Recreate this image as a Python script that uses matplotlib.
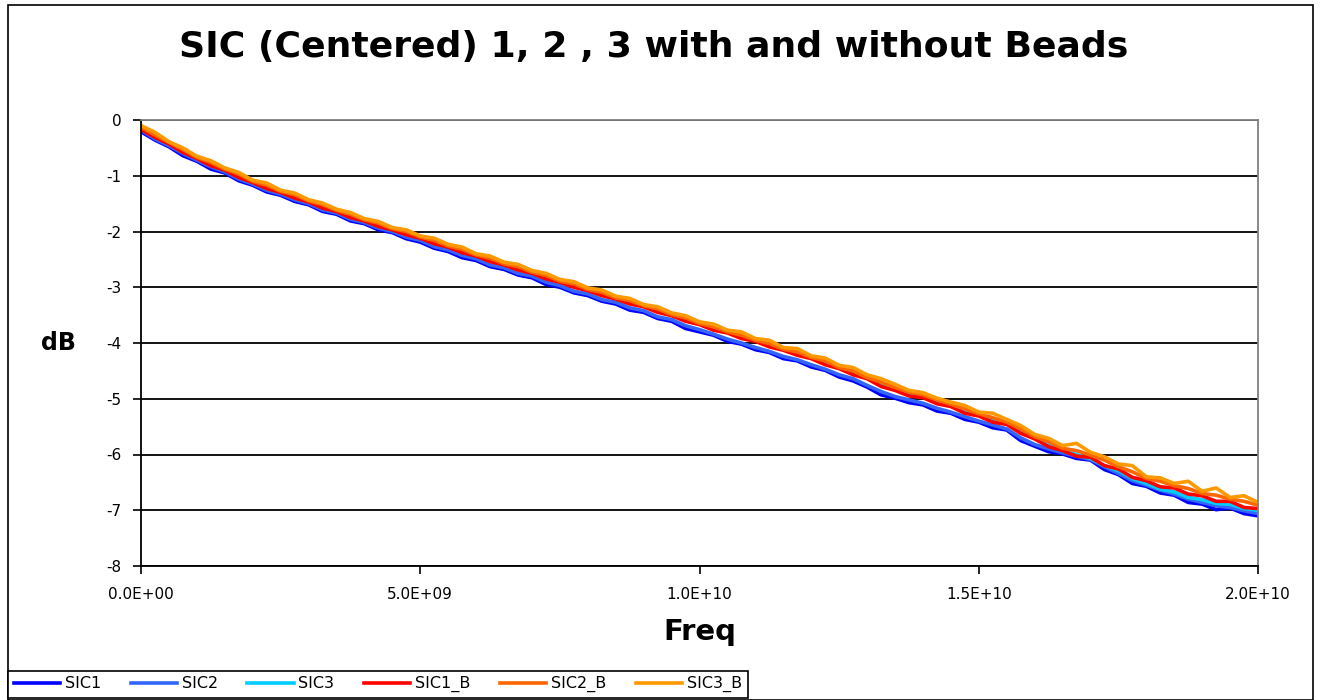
import matplotlib
matplotlib.use("Agg")
import matplotlib.pyplot as plt
from matplotlib.patches import Rectangle
import numpy as np

# ---------------- data ----------------
freq_ghz = [i * 0.25 for i in range(81)]  # 0 .. 20 GHz, sampled every 0.25 GHz

sic1 = [-0.21,-0.36,-0.48,-0.64,-0.74,-0.88,-0.95,-1.09,-1.17,-1.29,
        -1.35,-1.46,-1.52,-1.64,-1.69,-1.81,-1.86,-1.97,-2.02,-2.13,
        -2.19,-2.30,-2.36,-2.47,-2.52,-2.63,-2.68,-2.78,-2.83,-2.95,
        -3.00,-3.10,-3.15,-3.25,-3.30,-3.41,-3.45,-3.56,-3.61,-3.74,
        -3.80,-3.86,-3.97,-4.02,-4.12,-4.17,-4.28,-4.32,-4.43,-4.49,
        -4.61,-4.68,-4.79,-4.93,-4.99,-5.07,-5.11,-5.22,-5.26,-5.37,
        -5.42,-5.52,-5.56,-5.75,-5.85,-5.95,-5.99,-6.07,-6.10,-6.27,
        -6.36,-6.52,-6.57,-6.69,-6.73,-6.86,-6.89,-6.99,-6.96,-7.06,
        -7.10]

sic2 = [-0.18,-0.34,-0.46,-0.60,-0.72,-0.84,-0.93,-1.06,-1.15,-1.26,
        -1.33,-1.43,-1.50,-1.61,-1.67,-1.78,-1.84,-1.94,-2.00,-2.10,
        -2.16,-2.27,-2.33,-2.43,-2.49,-2.60,-2.65,-2.75,-2.80,-2.91,
        -2.97,-3.07,-3.12,-3.22,-3.27,-3.37,-3.42,-3.53,-3.58,-3.69,
        -3.76,-3.84,-3.93,-4.00,-4.08,-4.15,-4.24,-4.30,-4.39,-4.47,
        -4.57,-4.64,-4.76,-4.87,-4.96,-5.02,-5.08,-5.17,-5.24,-5.32,
        -5.40,-5.47,-5.54,-5.70,-5.82,-5.90,-5.97,-6.03,-6.09,-6.22,
        -6.34,-6.47,-6.55,-6.64,-6.71,-6.80,-6.86,-6.92,-6.95,-7.01,
        -7.06]

sic3 = [-0.13,-0.28,-0.40,-0.55,-0.66,-0.79,-0.87,-1.00,-1.09,-1.20,
        -1.27,-1.37,-1.44,-1.55,-1.61,-1.72,-1.78,-1.88,-1.94,-2.03,
        -2.09,-2.19,-2.25,-2.35,-2.41,-2.51,-2.57,-2.66,-2.72,-2.82,
        -2.88,-2.97,-3.03,-3.12,-3.18,-3.27,-3.32,-3.42,-3.48,-3.58,
        -3.64,-3.74,-3.79,-3.89,-3.94,-4.04,-4.10,-4.19,-4.25,-4.36,
        -4.43,-4.54,-4.61,-4.74,-4.82,-4.91,-4.95,-5.05,-5.11,-5.22,
        -5.29,-5.39,-5.45,-5.59,-5.70,-5.83,-5.92,-6.00,-6.07,-6.20,
        -6.29,-6.43,-6.52,-6.62,-6.67,-6.77,-6.81,-6.88,-6.89,-6.97,
        -7.00]

sic1_b = [-0.17,-0.31,-0.43,-0.58,-0.69,-0.82,-0.90,-1.03,-1.12,-1.23,
          -1.30,-1.40,-1.47,-1.58,-1.64,-1.75,-1.81,-1.91,-1.97,-2.06,
          -2.12,-2.22,-2.28,-2.38,-2.44,-2.54,-2.60,-2.69,-2.75,-2.85,
          -2.91,-3.00,-3.06,-3.15,-3.21,-3.30,-3.35,-3.45,-3.51,-3.61,
          -3.67,-3.77,-3.82,-3.92,-3.97,-4.07,-4.13,-4.22,-4.28,-4.39,
          -4.46,-4.57,-4.64,-4.78,-4.85,-4.95,-4.98,-5.09,-5.14,-5.26,
          -5.31,-5.42,-5.46,-5.62,-5.72,-5.86,-5.93,-6.03,-6.05,-6.20,
          -6.26,-6.41,-6.47,-6.58,-6.60,-6.71,-6.74,-6.84,-6.84,-6.95,
          -6.97]

sic2_b = [-0.13,-0.27,-0.40,-0.53,-0.67,-0.76,-0.88,-0.97,-1.10,-1.17,
          -1.28,-1.34,-1.45,-1.52,-1.62,-1.69,-1.79,-1.85,-1.95,-2.00,
          -2.10,-2.16,-2.26,-2.32,-2.42,-2.48,-2.58,-2.63,-2.73,-2.79,
          -2.89,-2.94,-3.04,-3.09,-3.19,-3.24,-3.33,-3.39,-3.49,-3.55,
          -3.65,-3.71,-3.80,-3.86,-3.95,-4.01,-4.11,-4.16,-4.26,-4.32,
          -4.44,-4.50,-4.62,-4.70,-4.80,-4.88,-4.93,-5.02,-5.10,-5.18,
          -5.27,-5.34,-5.42,-5.54,-5.68,-5.77,-5.89,-5.93,-6.01,-6.10,
          -6.22,-6.31,-6.43,-6.48,-6.56,-6.61,-6.70,-6.73,-6.80,-6.84,
          -6.91]

sic3_b = [-0.10,-0.22,-0.39,-0.50,-0.65,-0.73,-0.86,-0.94,-1.08,-1.13,
          -1.26,-1.31,-1.43,-1.49,-1.60,-1.66,-1.77,-1.82,-1.93,-1.97,
          -2.08,-2.12,-2.23,-2.28,-2.40,-2.44,-2.55,-2.59,-2.70,-2.75,
          -2.86,-2.90,-3.01,-3.05,-3.16,-3.20,-3.31,-3.35,-3.46,-3.51,
          -3.62,-3.66,-3.77,-3.80,-3.92,-3.95,-4.08,-4.10,-4.23,-4.27,
          -4.40,-4.44,-4.57,-4.64,-4.74,-4.85,-4.89,-4.99,-5.06,-5.12,
          -5.24,-5.26,-5.37,-5.48,-5.64,-5.71,-5.84,-5.80,-5.96,-6.04,
          -6.17,-6.20,-6.40,-6.42,-6.52,-6.48,-6.66,-6.60,-6.77,-6.74,
          -6.86]

series_names = ["SIC1", "SIC2", "SIC3", "SIC1_B", "SIC2_B", "SIC3_B"]
series_values = [sic1, sic2, sic3, sic1_b, sic2_b, sic3_b]
series_colors = ["#0000FF", "#3366FF", "#00CCFF", "#FF0000", "#FF6600", "#FF9900"]

x_ticks = [0.0, 5e9, 1e10, 1.5e10, 2e10]
x_tick_labels = ["0.0E+00", "5.0E+09", "1.0E+10", "1.5E+10", "2.0E+10"]
y_ticks = [0, -1, -2, -3, -4, -5, -6, -7, -8]

title = "SIC (Centered) 1, 2 , 3 with and without Beads"

# ---------------- figure ----------------
W, H = 1320, 700
fig = plt.figure(figsize=(W / 100, H / 100), dpi=100)
fig.patch.set_facecolor("white")

# chart-area frame
fig.add_artist(Rectangle((8 / W, 0), (1313 - 8) / W, 695 / H, transform=fig.transFigure,
                         fill=False, edgecolor="#000000", linewidth=1.2))

ax = fig.add_axes([141 / W, (H - 566) / H, (1258 - 141) / W, (566 - 120) / H])

x_hz = np.array(freq_ghz) * 1e9
for name, vals, col in zip(series_names, series_values, series_colors):
    ax.plot(x_hz, vals, color=col, linewidth=2.6, label=name)

ax.set_xlim(0, 2e10)
ax.set_ylim(-8, 0)
ax.set_yticks(y_ticks)
ax.set_yticklabels([str(v) for v in y_ticks])
ax.set_xticks(x_ticks)
ax.set_xticklabels(x_tick_labels)

ax.grid(axis="y", color="#000000", linewidth=1.3)
ax.set_axisbelow(True)
for s in ["top", "right"]:
    ax.spines[s].set_color("#808080")
    ax.spines[s].set_linewidth(1.3)
for s in ["left", "bottom"]:
    ax.spines[s].set_color("#000000")
    ax.spines[s].set_linewidth(1.3)

ax.tick_params(axis="both", direction="out", length=6, width=1.2, color="#000000",
               labelsize=11, labelcolor="#000000")
ax.tick_params(axis="y", pad=8)
ax.tick_params(axis="x", pad=9)
for lbl in ax.get_xticklabels() + ax.get_yticklabels():
    lbl.set_family("DejaVu Sans")

fig.text(58 / W, 1 - 343 / H, "dB", ha="center", va="center", fontsize=17,
         fontweight="bold", family="DejaVu Sans")
fig.text(700 / W, 1 - 632 / H, "Freq", ha="center", va="center", fontsize=21,
         fontweight="bold", family="DejaVu Sans")

t = fig.text(654 / W, 1 - 47 / H, title, ha="center", va="center", fontsize=24,
             fontweight="bold", family="DejaVu Sans")
fig.canvas.draw()
bb = t.get_window_extent()
t.set_fontsize(24 * 952 / bb.width)

leg = fig.legend(loc="lower left", bbox_to_anchor=(8 / W, 2 / H), ncol=6,
                 frameon=True, fancybox=False, edgecolor="#000000", framealpha=1,
                 prop={"family": "DejaVu Sans", "size": 11.5}, handlelength=2.9,
                 handletextpad=0.3, columnspacing=1.85, borderpad=0.35,
                 borderaxespad=0)
leg.get_frame().set_linewidth(1.2)
for ln in leg.get_lines():
    ln.set_linewidth(2.6)

fig.savefig("out.png", dpi=100)
